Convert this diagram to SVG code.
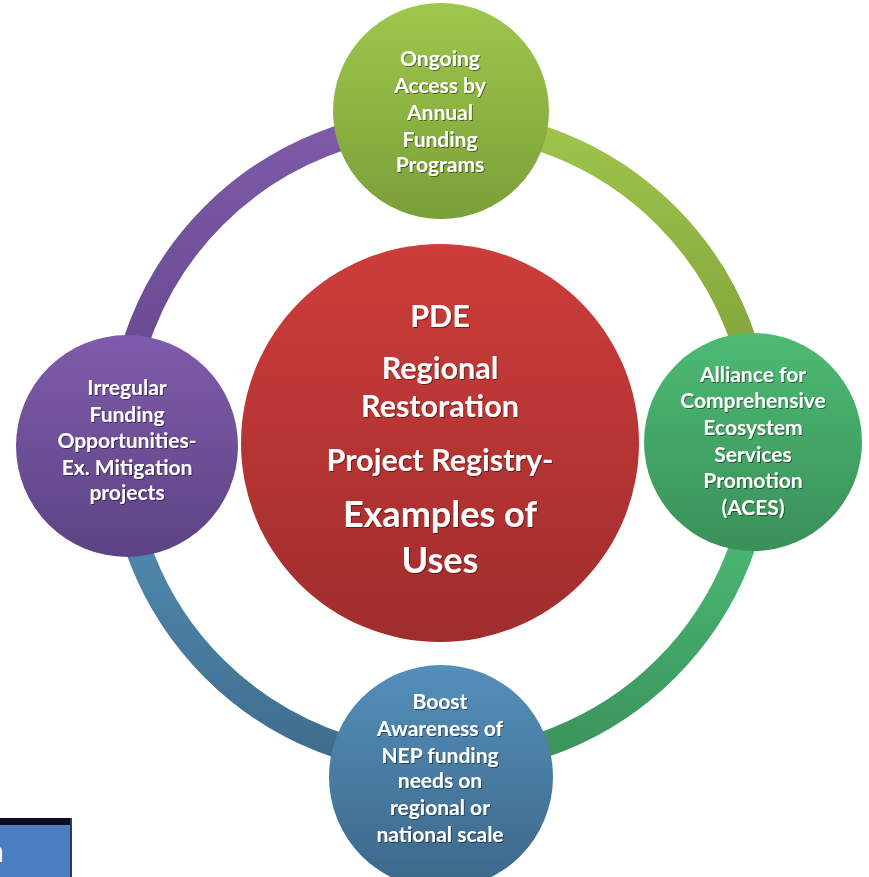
<svg xmlns="http://www.w3.org/2000/svg" width="869" height="877" viewBox="0 0 869 877">
<defs>
<style>
.t{font-family:Lato,"Open Sans","Liberation Sans",sans-serif;font-weight:bold;fill:#fff;text-anchor:middle;filter:url(#sh)}
.s{font-size:21px}
.c{font-size:30.5px}
.e{font-size:36px}
.arc{fill:none;stroke-width:26}
</style>
<filter id="sh" x="-10%" y="-10%" width="120%" height="130%"><feDropShadow dx="1" dy="1" stdDeviation="0.6" flood-color="#000" flood-opacity="0.45"/></filter>
<linearGradient id="gRed" x1="0" y1="0" x2="0" y2="1"><stop offset="0" stop-color="#cd3d3a"/><stop offset="1" stop-color="#9f2d2d"/></linearGradient>
<linearGradient id="gTop" x1="0" y1="0" x2="0" y2="1"><stop offset="0" stop-color="#9fc74c"/><stop offset="1" stop-color="#7b9f38"/></linearGradient>
<linearGradient id="gRight" x1="0" y1="0" x2="0" y2="1"><stop offset="0" stop-color="#4dbb74"/><stop offset="1" stop-color="#3a9058"/></linearGradient>
<linearGradient id="gLeft" x1="0" y1="0" x2="0" y2="1"><stop offset="0" stop-color="#7f5bab"/><stop offset="1" stop-color="#5c4384"/></linearGradient>
<linearGradient id="gBot" x1="0" y1="0" x2="0" y2="1"><stop offset="0" stop-color="#548fba"/><stop offset="1" stop-color="#3c6788"/></linearGradient>
<linearGradient id="aTL" gradientUnits="userSpaceOnUse" x1="0" y1="120" x2="0" y2="350"><stop offset="0" stop-color="#7e5aa8"/><stop offset="1" stop-color="#694b92"/></linearGradient>
<linearGradient id="aTR" gradientUnits="userSpaceOnUse" x1="0" y1="120" x2="0" y2="350"><stop offset="0" stop-color="#9fc54c"/><stop offset="1" stop-color="#84a63c"/></linearGradient>
<linearGradient id="aBR" gradientUnits="userSpaceOnUse" x1="0" y1="540" x2="0" y2="770"><stop offset="0" stop-color="#4ab672"/><stop offset="1" stop-color="#3a915a"/></linearGradient>
<linearGradient id="aBL" gradientUnits="userSpaceOnUse" x1="0" y1="540" x2="0" y2="770"><stop offset="0" stop-color="#4f88ad"/><stop offset="1" stop-color="#3e6b8b"/></linearGradient>
</defs>
<rect width="869" height="877" fill="#fff"/>
<g id="connectors">
<path class="arc" stroke="url(#aTL)" d="M120,442 A320,320 0 0 1 440,122"/>
<path class="arc" stroke="url(#aTR)" d="M440,122 A320,320 0 0 1 760,442"/>
<path class="arc" stroke="url(#aBR)" d="M760,442 A320,320 0 0 1 440,762"/>
<path class="arc" stroke="url(#aBL)" d="M440,762 A320,320 0 0 1 120,442"/>
</g>
<g id="node-center">
<circle cx="440" cy="443" r="199" fill="url(#gRed)"/>
<text class="t c" x="440" y="327">PDE</text>
<text class="t c" x="440" y="379">Regional</text>
<text class="t c" x="440" y="417">Restoration</text>
<text class="t c" x="440" y="471">Project Registry-</text>
<text class="t e" x="440" y="527">Examples of</text>
<text class="t e" x="440" y="573">Uses</text>
</g>
<g id="node-top">
<circle cx="441" cy="111" r="108" fill="url(#gTop)"/>
<text class="t s" x="440" y="66">Ongoing</text>
<text class="t s" x="440" y="93">Access by</text>
<text class="t s" x="440" y="120">Annual</text>
<text class="t s" x="440" y="147">Funding</text>
<text class="t s" x="440" y="172">Programs</text>
</g>
<g id="node-right">
<circle cx="753" cy="442" r="109" fill="url(#gRight)"/>
<text class="t s" x="753" y="382">Alliance for</text>
<text class="t s" x="753" y="408">Comprehensive</text>
<text class="t s" x="753" y="435">Ecosystem</text>
<text class="t s" x="753" y="462">Services</text>
<text class="t s" x="753" y="488">Promotion</text>
<text class="t s" x="753" y="515">(ACES)</text>
</g>
<g id="node-left">
<circle cx="127" cy="446" r="111" fill="url(#gLeft)"/>
<text class="t s" x="127" y="395">Irregular</text>
<text class="t s" x="127" y="422">Funding</text>
<text class="t s" x="127" y="448">Opportunities-</text>
<text class="t s" x="127" y="475">Ex. Mitigation</text>
<text class="t s" x="127" y="500">projects</text>
</g>
<g id="node-bottom">
<circle cx="441" cy="777" r="112" fill="url(#gBot)"/>
<text class="t s" x="440" y="709">Boost</text>
<text class="t s" x="440" y="736">Awareness of</text>
<text class="t s" x="440" y="763">NEP funding</text>
<text class="t s" x="440" y="788">needs on</text>
<text class="t s" x="440" y="815">regional or</text>
<text class="t s" x="440" y="842">national scale</text>
</g>
<g id="fragment">
<rect x="0" y="818" width="72" height="7" fill="#0c0c22"/>
<rect x="0" y="825" width="71" height="52" fill="#4a7ec0"/>
<rect x="70" y="818" width="2" height="59" fill="#2a3d5c"/>
<text x="-13" y="862" style="font-family:Lato,'Liberation Sans',sans-serif;font-size:30px;fill:#fff">n</text>
</g>
</svg>
